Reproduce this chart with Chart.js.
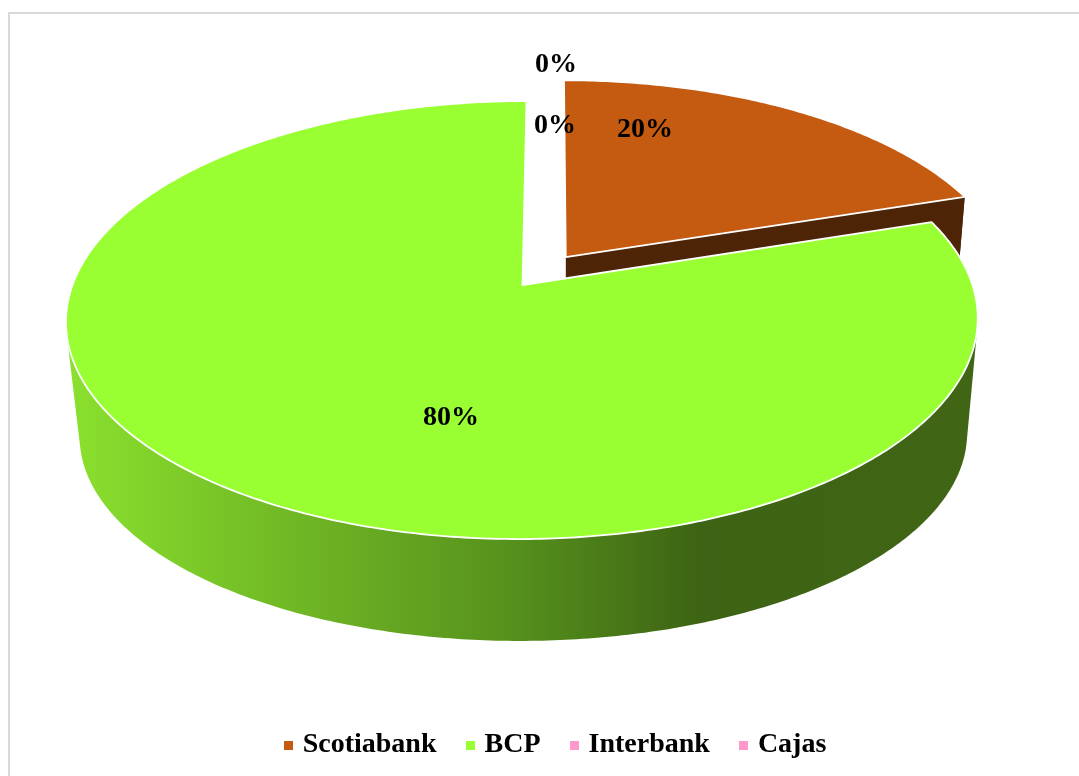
<!DOCTYPE html>
<html>
<head>
<meta charset="utf-8">
<title>Bancos</title>
<script src="https://cdn.jsdelivr.net/npm/chart.js@4/dist/chart.umd.min.js"></script>
<style>
  html, body { margin: 0; padding: 0; background: #fff; overflow: hidden; width: 1079px; height: 776px; }
  #frame { position: absolute; left: 8px; top: 12px; width: 1080px; height: 780px; border-left: 2px solid #d9d9d9; border-top: 2px solid #d9d9d9; }
  #chart { position: absolute; left: 0; top: 0; }
</style>
</head>
<body>
<div id="frame"></div>
<canvas id="chart" width="1079" height="769"></canvas>
<script>
// values
const categories = ['Scotiabank', 'BCP', 'Interbank', 'Cajas'];
const shares = [20, 80, 0, 0];
const percentLabels = ['20%', '80%', '0%', '0%'];
const sliceColors = ['#c55a11', '#99ff33', '#ff99cc', '#ff99cc'];
const explode = [53, 0, 0, 0];

// where each percent label sits on the page
const labelSpots = [[645, 130], [451, 418], [556, 65], [555, 126]];

const labelFont = 'bold 28px "Liberation Serif"';

// "camera" for the tilted disc: top face and bottom face of the pie
const topFace = { x: 522.5, y: 285, a: 450, b: 213.4 };
const bottomFace = { x: 524, y: 402, a: 438, b: 200.7 };
const tilt = 0.16;
const lean = -4;

function project(face, u, v) {
  const w = 1 - tilt * v;
  return [face.x + face.a * u / w + lean * v, face.y + face.b * v / w];
}

function sideStyle(ctx, color) {
  if (color !== sliceColors[1]) return '#4d2506';
  const g = ctx.createLinearGradient(70, 0, 970, 0);
  g.addColorStop(0, '#8ae02e');
  g.addColorStop(0.27, '#6eb424');
  g.addColorStop(0.5, '#558f1c');
  g.addColorStop(0.7, '#3d6314');
  g.addColorStop(1, '#3f6515');
  return g;
}

function addPolygon(ctx, pts) {
  pts.forEach((p, i) => (i ? ctx.lineTo(p[0], p[1]) : ctx.moveTo(p[0], p[1])));
  ctx.closePath();
}

// wall quads go into one path, so they must all wind the same way or they cancel out
function clockwise(pts) {
  let area = 0;
  pts.forEach((p, i) => {
    const q = pts[(i + 1) % pts.length];
    area += p[0] * q[1] - q[0] * p[1];
  });
  return area < 0 ? pts.slice().reverse() : pts;
}

// replace the flat arc with a tilted, extruded one, using the angles the controller worked out
Chart.ArcElement.prototype.draw = function (ctx) {
  const { startAngle, endAngle, outerRadius } = this.getProps(['startAngle', 'endAngle', 'outerRadius']);
  if (endAngle - startAngle <= 0) return;
  const opts = this.options;
  const mid = (startAngle + endAngle) / 2;
  const shift = (opts.offset || 0) / outerRadius;
  const ou = Math.cos(mid) * shift;
  const ov = Math.sin(mid) * shift;

  const steps = Math.ceil((endAngle - startAngle) * 90);
  const angleAt = (i) => startAngle + (endAngle - startAngle) * i / steps;
  const rimAt = (face, i) => project(face, ou + Math.cos(angleAt(i)), ov + Math.sin(angleAt(i)));

  ctx.save();
  ctx.fillStyle = sideStyle(ctx, opts.backgroundColor);

  // outer wall, the far side of the rim is never seen so it is skipped
  ctx.beginPath();
  for (let i = 0; i < steps; i++) {
    if (Math.sin(angleAt(i)) < -0.5) continue;
    addPolygon(ctx, clockwise([rimAt(topFace, i), rimAt(topFace, i + 1), rimAt(bottomFace, i + 1), rimAt(bottomFace, i)]));
  }
  ctx.fill();

  // cut face at the end of the slice, only seen when that edge points sideways
  if (Math.cos(endAngle) > 0.5) {
    ctx.beginPath();
    addPolygon(ctx, [project(topFace, ou, ov), rimAt(topFace, steps), rimAt(bottomFace, steps), project(bottomFace, ou, ov)]);
    ctx.fill();
  }

  const face = [project(topFace, ou, ov)];
  for (let i = 0; i <= steps; i++) face.push(rimAt(topFace, i));
  ctx.beginPath();
  addPolygon(ctx, face);
  ctx.fillStyle = opts.backgroundColor;
  ctx.fill();
  ctx.strokeStyle = opts.borderColor;
  ctx.lineWidth = opts.borderWidth;
  ctx.lineJoin = 'round';
  ctx.stroke();
  ctx.restore();
};

const percentPlugin = {
  id: 'percentLabels',
  afterDraw(chart) {
    const ctx = chart.ctx;
    ctx.save();
    ctx.font = labelFont;
    ctx.fillStyle = '#000';
    ctx.textAlign = 'center';
    ctx.textBaseline = 'middle';
    percentLabels.forEach((t, i) => ctx.fillText(t, labelSpots[i][0], labelSpots[i][1]));
    ctx.restore();
  },
};

function marker(color) {
  const c = document.createElement('canvas');
  c.width = 9;
  c.height = 9;
  const g = c.getContext('2d');
  g.fillStyle = color;
  g.fillRect(0, 0, 9, 9);
  return c;
}

new Chart(document.getElementById('chart'), {
  type: 'pie',
  data: {
    labels: categories,
    datasets: [{
      data: shares,
      backgroundColor: sliceColors,
      borderColor: '#fff',
      borderWidth: 1.8,
      offset: explode,
    }],
  },
  options: {
    responsive: false,
    animation: false,
    events: [],
    layout: { padding: { left: 36 } },
    plugins: {
      tooltip: { enabled: false },
      legend: {
        position: 'bottom',
        labels: {
          color: '#000',
          font: { family: 'Liberation Serif', size: 28, weight: 'bold' },
          usePointStyle: true,
          boxWidth: 0.01,
          padding: 34,
          generateLabels(chart) {
            const items = Chart.overrides.doughnut.plugins.legend.labels.generateLabels(chart);
            items.forEach((it, i) => { it.pointStyle = marker(sliceColors[i]); });
            return items;
          },
        },
      },
    },
  },
  plugins: [percentPlugin],
});
</script>
</body>
</html>
